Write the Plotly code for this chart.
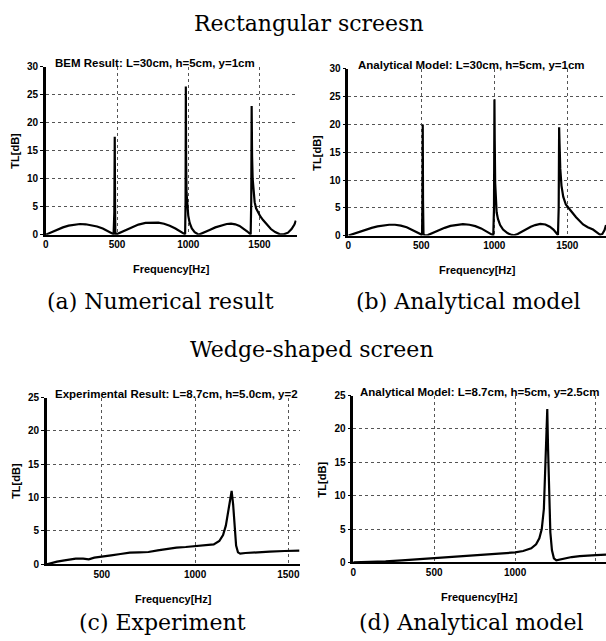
import plotly.graph_objects as go

W, H = 606, 641

# ---- Rectangular screen, BEM result (L=30cm, h=5cm, y=1cm) ----
freq_a = [0, 40, 80, 120, 160, 200, 240, 280, 320, 360, 400, 440, 465, 476,
          481, 484, 486, 488, 492, 500, 530, 570, 610, 650, 700, 750, 790, 830,
          870, 910, 940, 960, 972, 978, 981, 983, 985, 988, 993, 1000, 1010,
          1025, 1045, 1065, 1080, 1110, 1150, 1190, 1230, 1270, 1300, 1330,
          1360, 1390, 1415, 1430, 1438, 1442, 1445, 1448, 1452, 1458, 1466,
          1476, 1490, 1505, 1525, 1550, 1580, 1610, 1640, 1670, 1700, 1725,
          1745, 1755]
tl_a = [0.0, 0.45, 0.9, 1.3, 1.6, 1.8, 1.9, 1.85, 1.7, 1.45, 1.1, 0.6, 0.25,
        0.08, 4.0, 17.5, 6.0, 0.5, 0.05, 0.1, 0.45, 0.95, 1.4, 1.8, 2.1, 2.2,
        2.15, 1.95, 1.6, 1.1, 0.65, 0.35, 0.12, 0.05, 6.0, 26.5, 13.0, 7.5,
        4.8, 3.4, 2.1, 1.1, 0.45, 0.12, 0.05, 0.35, 0.85, 1.3, 1.65, 1.9,
        1.95, 1.85, 1.55, 1.05, 0.55, 0.2, 0.05, 6.0, 23.0, 14.0, 10.0, 7.5,
        5.8, 4.7, 3.9, 3.3, 2.6, 1.8, 1.0, 0.45, 0.1, 0.05, 0.35, 1.0, 1.8,
        2.5]

# ---- Rectangular screen, analytical model (L=30cm, h=5cm, y=1cm) ----
freq_b = [0, 40, 80, 120, 160, 200, 240, 280, 320, 360, 400, 440, 470, 490,
          500, 505, 508, 510, 512, 515, 522, 545, 580, 620, 660, 700, 740, 785,
          830, 870, 910, 945, 970, 985, 993, 998, 1001, 1003, 1006, 1010, 1016,
          1025, 1040, 1060, 1090, 1120, 1135, 1160, 1190, 1220, 1250, 1280,
          1315, 1350, 1380, 1405, 1425, 1436, 1441, 1444, 1447, 1452, 1460,
          1472, 1490, 1520, 1560, 1608, 1640, 1676, 1705, 1725, 1740, 1755,
          1765]
tl_b = [0.0, 0.35, 0.75, 1.1, 1.4, 1.65, 1.85, 1.95, 1.95, 1.8, 1.5, 1.05,
        0.65, 0.35, 0.15, 0.05, 6.0, 20.0, 6.0, 0.3, 0.05, 0.1, 0.5, 1.0, 1.4,
        1.75, 1.95, 2.05, 1.95, 1.7, 1.3, 0.8, 0.4, 0.15, 0.05, 5.0, 24.5,
        17.0, 9.5, 6.0, 4.2, 3.0, 1.9, 1.1, 0.45, 0.12, 0.05, 0.3, 0.75, 1.2,
        1.6, 1.9, 2.1, 2.0, 1.6, 1.1, 0.5, 0.1, 5.0, 19.5, 16.5, 12.0, 9.0,
        7.0, 5.6, 4.6, 3.3, 2.0, 1.5, 1.1, 0.5, 0.15, 0.3, 1.0, 1.9]

# ---- Wedge-shaped screen, experimental result (L=8.7cm, h=5.0cm, y=2) ----
freq_c = [205, 230, 260, 300, 330, 360, 400, 430, 460, 500, 550, 600, 650,
          700, 750, 800, 850, 900, 950, 1000, 1050, 1100, 1130, 1150, 1165,
          1178, 1188, 1196, 1204, 1212, 1220, 1230, 1242, 1270, 1320, 1400,
          1480, 1560]
tl_c = [0.0, 0.2, 0.4, 0.6, 0.75, 0.85, 0.85, 0.75, 1.0, 1.2, 1.35, 1.55,
        1.75, 1.8, 1.85, 2.1, 2.35, 2.5, 2.6, 2.7, 2.8, 3.0, 3.5, 4.4, 5.8,
        8.0, 10.2, 11.0, 9.0, 5.5, 2.8, 1.8, 1.6, 1.7, 1.8, 1.9, 2.0, 2.05]

# ---- Wedge-shaped screen, analytical model (L=8.7cm, h=5cm, y=2.5cm) ----
freq_d = [0, 100, 200, 300, 400, 500, 600, 700, 800, 900, 1000, 1050, 1100,
          1130, 1150, 1165, 1178, 1188, 1195, 1199, 1204, 1210, 1218, 1228,
          1240, 1255, 1275, 1300, 1350, 1400, 1450, 1500, 1562]
tl_d = [0.0, 0.05, 0.15, 0.3, 0.45, 0.6, 0.8, 0.95, 1.1, 1.3, 1.5, 1.7, 2.1,
        2.7, 3.6, 5.0, 8.0, 14.0, 20.0, 23.0, 17.0, 10.0, 4.5, 1.8, 0.6, 0.3,
        0.4, 0.6, 0.8, 0.95, 1.05, 1.1, 1.15]

freq_ticks = [0, 500, 1000, 1500]
panel_titles = [
    "BEM Result: L=30cm, h=5cm, y=1cm",
    "Analytical Model: L=30cm, h=5cm, y=1cm",
    "Experimental Result: L=8.7cm, h=5.0cm, y=2",
    "Analytical Model: L=8.7cm, h=5cm, y=2.5cm",
]
captions = ["(a) Numerical result", "(b) Analytical model",
            "(c) Experiment", "(d) Analytical model"]
group_titles = ["Rectangular screesn", "Wedge-shaped screen"]


def fx(p):
    return p / W


def fy(p):
    return 1 - p / H


SANS = "Liberation Sans, Arial, sans-serif"
SERIF = "DejaVu Serif, Liberation Serif, serif"
tick_font = dict(family=SANS, size=10, color="black", weight="bold")

# pixel boxes of the four plot areas: (left, right, top, bottom)
boxes = [(43, 295, 62, 233), (347, 606, 64, 234),
         (44, 298, 399, 569), (352, 606, 397, 567)]
xranges = [[0, 1760], [0, 1765], [205, 1560], [0, 1562]]
yranges = [[0, 30], [0, 30], [0, 25], [0, 25]]
series = [(freq_a, tl_a), (freq_b, tl_b), (freq_c, tl_c), (freq_d, tl_d)]
title_x = [50, 355, 50, 357]

fig = go.Figure()
layout = {}
annotations = []

for i, ((l, r, t, b), (fq, tl)) in enumerate(zip(boxes, series)):
    n = "" if i == 0 else str(i + 1)
    fig.add_trace(go.Scatter(
        x=fq, y=tl, mode="lines",
        line=dict(color="black", width=2.2),
        xaxis="x" + n, yaxis="y" + n, showlegend=False,
        hoverinfo="skip"))
    grid = dict(showgrid=True, gridcolor="#555", gridwidth=1, griddash="dot")
    layout["xaxis" + n] = dict(
        domain=[fx(l), fx(r)], range=xranges[i], anchor="y" + n,
        tickvals=freq_ticks, ticks="", tickfont=tick_font,
        showline=True, linecolor="black", linewidth=1.5,
        zeroline=False, **grid)
    layout["yaxis" + n] = dict(
        domain=[fy(b), fy(t)], range=yranges[i], anchor="x" + n,
        dtick=5, ticks="outside", ticklen=3, tickwidth=1, tickcolor="black",
        tickfont=tick_font, showline=True, linecolor="black", linewidth=2.5,
        zeroline=False, **grid)

    # panel heading above the plot area
    annotations.append(dict(
        text=panel_titles[i], x=fx(title_x[i]), y=fy(t - 4), xref="paper",
        yref="paper", xanchor="left", yanchor="middle", showarrow=False,
        font=dict(family=SANS, size=11.5, color="black", weight="bold")))
    # y-axis title
    annotations.append(dict(
        text="TL[dB]", x=fx(l - 31), y=fy((t + b) / 2), xref="paper",
        yref="paper", xanchor="center", yanchor="middle", textangle=-90,
        showarrow=False,
        font=dict(family=SANS, size=11, color="black", weight="bold")))
    # x-axis title
    annotations.append(dict(
        text="Frequency[Hz]", x=fx((l + r) / 2), y=fy(b + 35), xref="paper",
        yref="paper", xanchor="center", yanchor="middle", showarrow=False,
        font=dict(family=SANS, size=11, color="black", weight="bold")))

# sub-figure captions
cap_pos = [(158, 301), (467, 301), (160, 628), (470, 628)]
for txt, (cx, cy) in zip(captions, cap_pos):
    annotations.append(dict(
        text=txt, x=fx(cx), y=fy(cy), xref="paper", yref="paper",
        xanchor="center", yanchor="middle", showarrow=False,
        font=dict(family=SERIF, size=22, color="black")))

# group headings
for txt, (cx, cy) in zip(group_titles, [(308, 18), (311, 350)]):
    annotations.append(dict(
        text=txt, x=fx(cx), y=fy(cy), xref="paper", yref="paper",
        xanchor="center", yanchor="middle", showarrow=False,
        font=dict(family=SERIF, size=22, color="black")))

fig.update_layout(
    width=W, height=H, margin=dict(l=0, r=0, t=0, b=0),
    paper_bgcolor="white", plot_bgcolor="white",
    annotations=annotations, **layout)

fig.write_html("out.html")
